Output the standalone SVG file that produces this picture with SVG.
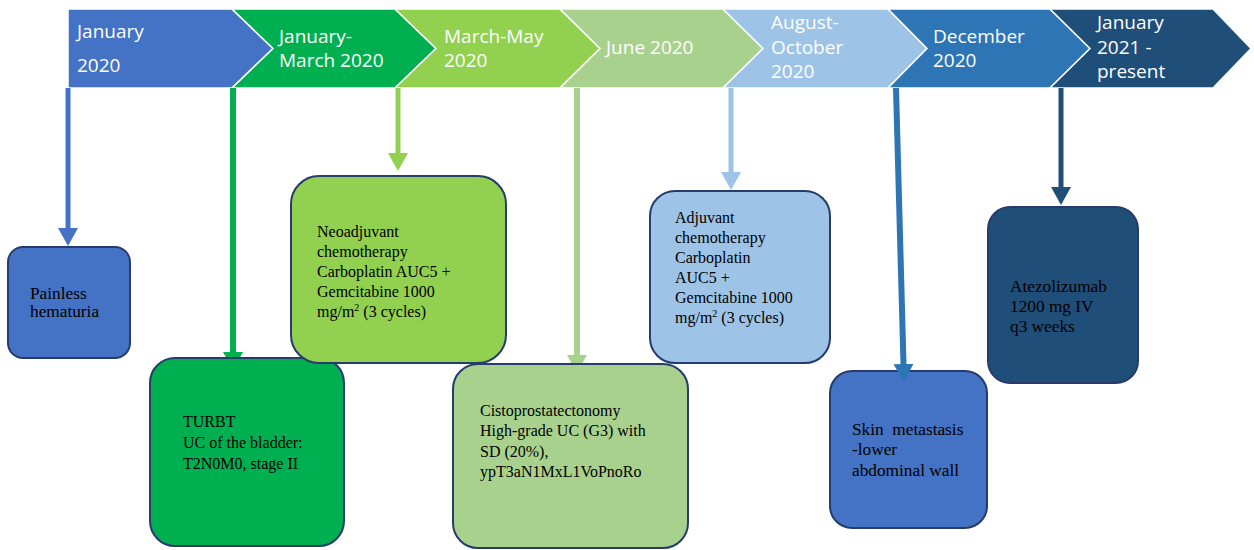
<svg xmlns="http://www.w3.org/2000/svg" width="1254" height="550" viewBox="0 0 1254 550">
<style>
.chev{stroke:#fff;stroke-width:1.5;stroke-linejoin:miter}
.ct{font-family:"Open Sans","Liberation Sans",sans-serif;font-size:19px;fill:#fff}
.box{stroke:#263C6C;stroke-width:2}
.bt{font-family:"Liberation Serif","Times New Roman",serif;font-size:16px;fill:#000}
.bl{font-size:17.3px}
.sup{font-size:10px}
.ln{fill:none;stroke-linecap:butt}
</style>
<defs>
<marker id="mA" viewBox="0 0 18 20" refX="4" refY="10" markerWidth="18" markerHeight="20" markerUnits="userSpaceOnUse" orient="auto"><path d="M0,0 L18,10 L0,20 Z" fill="#4472C4"/></marker>
<marker id="mB" viewBox="0 0 18 20" refX="4" refY="10" markerWidth="18" markerHeight="20" markerUnits="userSpaceOnUse" orient="auto"><path d="M0,0 L18,10 L0,20 Z" fill="#00B050"/></marker>
<marker id="mC" viewBox="0 0 18 20" refX="4" refY="10" markerWidth="18" markerHeight="20" markerUnits="userSpaceOnUse" orient="auto"><path d="M0,0 L18,10 L0,20 Z" fill="#92D050"/></marker>
<marker id="mD" viewBox="0 0 18 20" refX="4" refY="10" markerWidth="18" markerHeight="20" markerUnits="userSpaceOnUse" orient="auto"><path d="M0,0 L18,10 L0,20 Z" fill="#A9D18E"/></marker>
<marker id="mE" viewBox="0 0 18 20" refX="4" refY="10" markerWidth="18" markerHeight="20" markerUnits="userSpaceOnUse" orient="auto"><path d="M0,0 L18,10 L0,20 Z" fill="#9DC3E6"/></marker>
<marker id="mF" viewBox="0 0 18 20" refX="4" refY="10" markerWidth="18" markerHeight="20" markerUnits="userSpaceOnUse" orient="auto"><path d="M0,0 L18,10 L0,20 Z" fill="#2E75B6"/></marker>
<marker id="mG" viewBox="0 0 18 20" refX="4" refY="10" markerWidth="18" markerHeight="20" markerUnits="userSpaceOnUse" orient="auto"><path d="M0,0 L18,10 L0,20 Z" fill="#1F4E79"/></marker>
</defs>
<rect width="1254" height="550" fill="#fff"/>

<g id="timeline">
<g id="p1"><path class="chev" fill="#4472C4" d="M68,9 L232,9 L273,48.5 L232,88 L68,88 Z"/><text class="ct" x="77" y="38">January</text><text class="ct" x="77" y="72">2020</text></g>
<g id="p2"><path class="chev" fill="#00B050" d="M232,9 L395,9 L436,48.5 L395,88 L232,88 L273,48.5 Z"/><text class="ct" x="279" y="43">January-</text><text class="ct" x="279" y="67">March 2020</text></g>
<g id="p3"><path class="chev" fill="#92D050" d="M395,9 L560,9 L600,48.5 L560,88 L395,88 L436,48.5 Z"/><text class="ct" x="444" y="43">March-May</text><text class="ct" x="444" y="67">2020</text></g>
<g id="p4"><path class="chev" fill="#A9D18E" d="M560,9 L723,9 L763,48.5 L723,88 L560,88 L600,48.5 Z"/><text class="ct" x="606" y="54">June 2020</text></g>
<g id="p5"><path class="chev" fill="#9DC3E6" d="M723,9 L888,9 L927,48.5 L888,88 L723,88 L763,48.5 Z"/><text class="ct" x="771" y="29">August-</text><text class="ct" x="771" y="54">October</text><text class="ct" x="771" y="78">2020</text></g>
<g id="p6"><path class="chev" fill="#2E75B6" d="M888,9 L1050,9 L1090,48.5 L1050,88 L888,88 L927,48.5 Z"/><text class="ct" x="933" y="43">December</text><text class="ct" x="933" y="67">2020</text></g>
<g id="p7"><path class="chev" fill="#1F4E79" d="M1050,9 L1213,9 L1251,48.5 L1213,88 L1050,88 L1090,48.5 Z"/><text class="ct" x="1097" y="29">January</text><text class="ct" x="1097" y="54">2021 -</text><text class="ct" x="1097" y="78">present</text></g>
</g>

<g id="n6">
<rect class="box" x="830" y="371" width="157" height="157" rx="22" fill="#4472C4"/>
<text class="bt bl" xml:space="preserve" x="852" y="435">Skin  metastasis</text>
<text class="bt bl" x="852" y="455">-lower</text>
<text class="bt bl" x="852" y="476">abdominal wall</text>
</g>

<g id="connectors">
<line class="ln" x1="68" y1="88" x2="68" y2="232" stroke="#4472C4" stroke-width="5" marker-end="url(#mA)"/>
<line class="ln" x1="233" y1="88" x2="233" y2="356" stroke="#00B050" stroke-width="6" marker-end="url(#mB)"/>
<line class="ln" x1="398" y1="88" x2="398" y2="157" stroke="#92D050" stroke-width="5" marker-end="url(#mC)"/>
<line class="ln" x1="577" y1="88" x2="577" y2="359" stroke="#A9D18E" stroke-width="6" marker-end="url(#mD)"/>
<line class="ln" x1="731" y1="88" x2="731" y2="176" stroke="#9DC3E6" stroke-width="5" marker-end="url(#mE)"/>
<line class="ln" x1="896" y1="88" x2="903.6" y2="368" stroke="#2E75B6" stroke-width="6" marker-end="url(#mF)"/>
<line class="ln" x1="1061" y1="88" x2="1061" y2="191" stroke="#1F4E79" stroke-width="5" marker-end="url(#mG)"/>
</g>

<g id="n1">
<rect class="box" x="8" y="247" width="122" height="111" rx="15" fill="#4472C4"/>
<text class="bt bl" x="30" y="299">Painless</text>
<text class="bt bl" x="30" y="317">hematuria</text>
</g>

<g id="n2">
<rect class="box" x="150" y="358" width="194" height="188" rx="25" fill="#00B050"/>
<text class="bt" x="183" y="427">TURBT</text>
<text class="bt" x="183" y="448">UC of the bladder:</text>
<text class="bt" x="183" y="469">T2N0M0, stage II</text>
</g>

<g id="n3">
<rect class="box" x="291" y="176" width="215" height="187" rx="28" fill="#92D050"/>
<text class="bt" x="317" y="237">Neoadjuvant</text>
<text class="bt" x="317" y="257">chemotherapy</text>
<text class="bt" x="317" y="277">Carboplatin AUC5 +</text>
<text class="bt" x="317" y="297">Gemcitabine 1000</text>
<text class="bt" x="317" y="317">mg/m<tspan class="sup" dy="-6">2</tspan><tspan dy="6"> (3 cycles)</tspan></text>
</g>

<g id="n4">
<rect class="box" x="453" y="364" width="235" height="184" rx="25" fill="#A9D18E"/>
<text class="bt" x="480" y="416">Cistoprostatectonomy</text>
<text class="bt" x="480" y="436">High-grade UC (G3) with</text>
<text class="bt" x="480" y="457">SD (20%),</text>
<text class="bt" x="480" y="477">ypT3aN1MxL1VoPnoRo</text>
</g>

<g id="n5">
<rect class="box" x="650" y="191" width="180" height="172" rx="25" fill="#9DC3E6"/>
<text class="bt" x="675" y="223">Adjuvant</text>
<text class="bt" x="675" y="243">chemotherapy</text>
<text class="bt" x="675" y="263">Carboplatin</text>
<text class="bt" x="675" y="283">AUC5 +</text>
<text class="bt" x="675" y="303">Gemcitabine 1000</text>
<text class="bt" x="675" y="323">mg/m<tspan class="sup" dy="-6">2</tspan><tspan dy="6"> (3 cycles)</tspan></text>
</g>

<g id="n7">
<rect class="box" x="988" y="207" width="150" height="176" rx="22" fill="#1F4E79"/>
<text class="bt bl" x="1010" y="292">Atezolizumab</text>
<text class="bt bl" x="1010" y="312">1200 mg IV</text>
<text class="bt bl" x="1010" y="332">q3 weeks</text>
</g>
</svg>
